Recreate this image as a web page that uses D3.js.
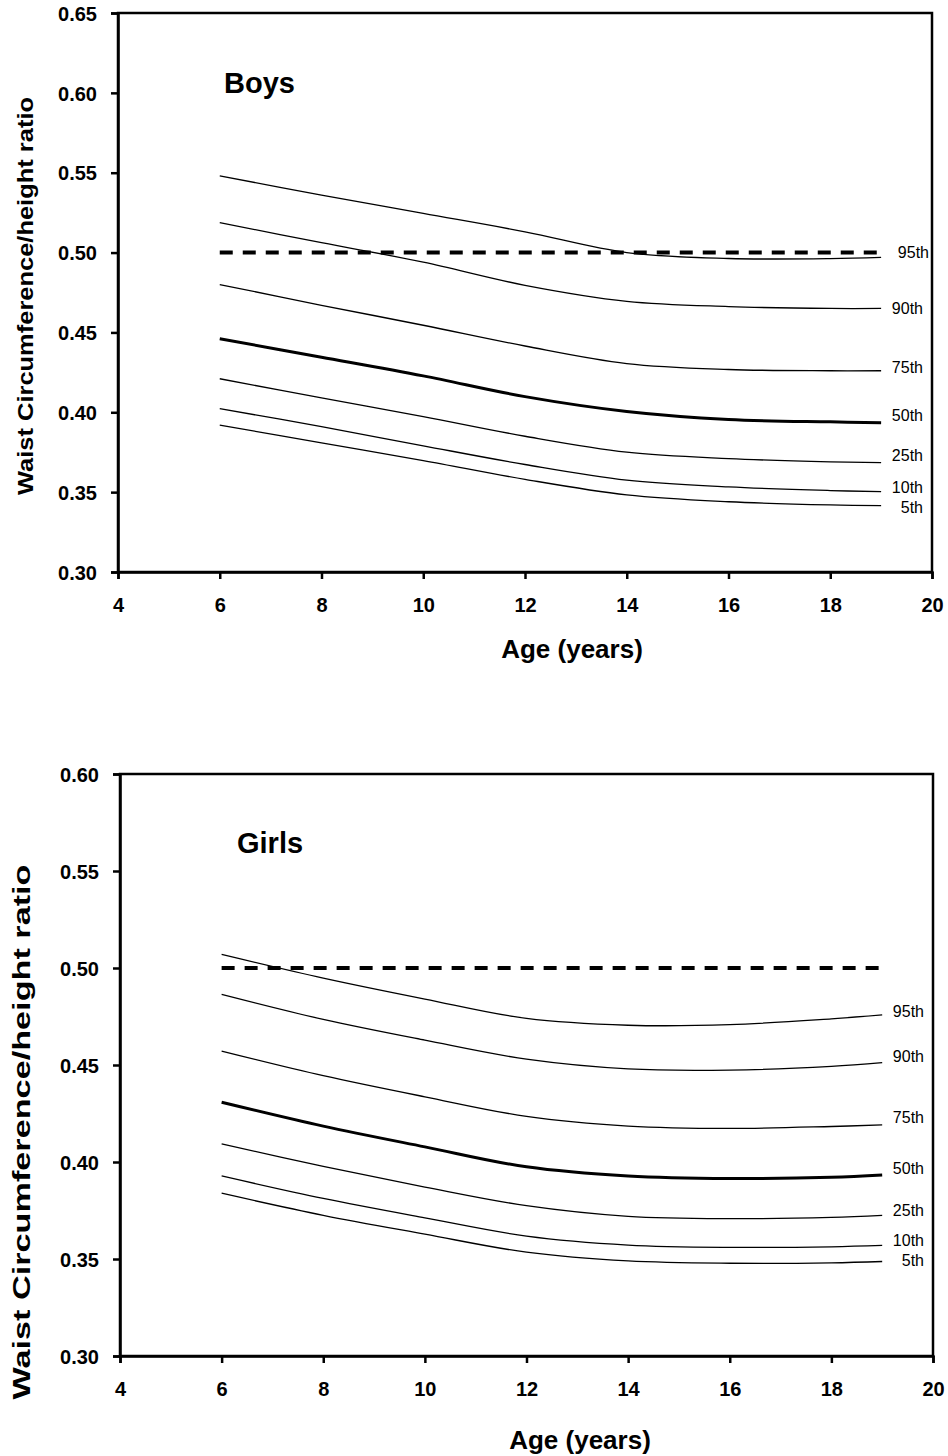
<!DOCTYPE html>
<html>
<head>
<meta charset="utf-8">
<script src="https://cdn.jsdelivr.net/npm/d3@7"></script>
<style>
  body { margin: 0; background: #fff; }
  text { font-family: "Liberation Sans", Arial, sans-serif; }
</style>
</head>
<body>
<script>
const ages = [6, 8, 10, 12, 14, 16, 18, 19];
const percentiles = ["95th", "90th", "75th", "50th", "25th", "10th", "5th"];

const boys95 = [0.548, 0.536, 0.5245, 0.513, 0.5, 0.4963, 0.4962, 0.497];
const boys90 = [0.5187, 0.5062, 0.494, 0.4795, 0.4695, 0.4662, 0.465, 0.465];
const boys75 = [0.480, 0.467, 0.4545, 0.4415, 0.4305, 0.4268, 0.426, 0.426];
const boys50 = [0.446, 0.4345, 0.4228, 0.4098, 0.4005, 0.3955, 0.394, 0.3935];
const boys25 = [0.421, 0.409, 0.3973, 0.385, 0.375, 0.371, 0.369, 0.3685];
const boys10 = [0.4023, 0.391, 0.379, 0.3673, 0.3575, 0.3533, 0.351, 0.3503];
const boys5  = [0.392, 0.3808, 0.3698, 0.358, 0.3483, 0.344, 0.342, 0.3416];

const girls95 = [0.507, 0.4948, 0.484, 0.474, 0.4705, 0.4708, 0.4738, 0.4758];
const girls90 = [0.4864, 0.4735, 0.4628, 0.453, 0.448, 0.4474, 0.4493, 0.4512];
const girls75 = [0.4572, 0.4445, 0.4336, 0.4235, 0.4185, 0.4173, 0.4183, 0.4191];
const girls50 = [0.4308, 0.4185, 0.4078, 0.3975, 0.3928, 0.3915, 0.3921, 0.3933];
const girls25 = [0.4093, 0.3977, 0.3871, 0.3775, 0.372, 0.3708, 0.3715, 0.3725];
const girls10 = [0.3928, 0.3812, 0.3712, 0.3618, 0.3572, 0.356, 0.3563, 0.357];
const girls5  = [0.3839, 0.3725, 0.3628, 0.3535, 0.349, 0.3478, 0.348, 0.3487];

const cutoff = 0.5;          // dashed reference line
const xTicks = [4, 6, 8, 10, 12, 14, 16, 18, 20];
const boysYTicks = [0.30, 0.35, 0.40, 0.45, 0.50, 0.55, 0.60, 0.65];
const girlsYTicks = [0.30, 0.35, 0.40, 0.45, 0.50, 0.55, 0.60];

const svg = d3.select("body").append("svg")
    .attr("width", 948)
    .attr("height", 1456);

function drawPanel(p) {
  const x = d3.scaleLinear().domain([4, 20]).range([p.left, p.right]);
  const y = d3.scaleLinear().domain([0.30, p.yMax]).range([p.bottom, p.top]);
  const g = svg.append("g");

  // frame (top + right)
  g.append("rect")
      .attr("x", p.left).attr("y", p.top)
      .attr("width", p.right - p.left).attr("height", p.bottom - p.top)
      .attr("fill", "none").attr("stroke", "#000").attr("stroke-width", 2.5);

  const ax = g.append("g")
      .attr("transform", `translate(0,${p.bottom})`)
      .call(d3.axisBottom(x).tickValues(xTicks).tickSizeOuter(0).tickSize(7).tickPadding(19)
        .tickFormat(d3.format("d")));
  const ay = g.append("g")
      .attr("transform", `translate(${p.left},0)`)
      .call(d3.axisLeft(y).tickValues(p.yTicks).tickSizeOuter(0).tickSize(7).tickPadding(14)
        .tickFormat(d3.format(".2f")));
  [ax, ay].forEach(a => {
    a.select(".domain").attr("stroke-width", 2.5);
    a.selectAll(".tick line").attr("stroke-width", 2.5);
    a.selectAll(".tick text")
        .attr("fill", "#000")
        .style("font-size", "20px")
        .style("font-weight", "bold");
  });
  ay.selectAll(".tick text").attr("dy", "0.36em");

  const line = d3.line()
      .x((d, i) => x(ages[i]))
      .y(d => y(d))
      .curve(d3.curveCatmullRom.alpha(0.5));

  // dashed 0.5 line
  g.append("line")
      .attr("x1", x(ages[0])).attr("x2", x(ages[ages.length - 1]))
      .attr("y1", y(cutoff)).attr("y2", y(cutoff))
      .attr("stroke", "#000").attr("stroke-width", 4)
      .attr("stroke-dasharray", "13,10");

  g.append("g")
    .selectAll("path")
    .data(p.series)
    .join("path")
      .attr("d", d => line(d))
      .attr("fill", "none")
      .attr("stroke", "#000")
      .attr("stroke-width", (d, i) => percentiles[i] === "50th" ? 3 : 1.3);

  g.append("g")
    .selectAll("text")
    .data(p.series)
    .join("text")
      .attr("x", (d, i) => p.labelX + (p.labelShift[i] || 0))
      .attr("y", (d, i) => y(d[d.length - 1]) + p.labelNudge[i])
      .attr("dy", "0.36em")
      .attr("text-anchor", "end")
      .style("font-size", "16px")
      .text((d, i) => percentiles[i]);

  g.append("text")
      .attr("x", p.titleX).attr("y", p.titleY)
      .style("font-size", "29px").style("font-weight", "bold")
      .text(p.title);

  g.append("text")
      .attr("x", p.xLabelX).attr("y", p.bottom + p.xLabelDy)
      .attr("text-anchor", "middle")
      .style("font-size", "26px").style("font-weight", "bold")
      .text("Age (years)");

  g.append("text")
      .attr("transform", `translate(${p.yLabelX},${p.yLabelY}) rotate(-90)`)
      .attr("text-anchor", "middle")
      .attr("textLength", p.yLabelLen)
      .attr("lengthAdjust", "spacingAndGlyphs")
      .style("font-size", p.yLabelSize + "px").style("font-weight", "bold")
      .text("Waist Circumference/height ratio");
}

drawPanel({
  title: "Boys", titleX: 224, titleY: 93,
  left: 118, right: 932, top: 13, bottom: 572, yMax: 0.65, yTicks: boysYTicks,
  series: [boys95, boys90, boys75, boys50, boys25, boys10, boys5],
  labelX: 923, labelShift: [6, 0, 0, 0, 0, 0, 0],
  labelNudge: [-5, 0, -4, -7, -7, -4, 2],
  xLabelX: 572, xLabelDy: 86,
  yLabelX: 33, yLabelY: 296, yLabelLen: 398, yLabelSize: 22
});

drawPanel({
  title: "Girls", titleX: 237, titleY: 853,
  left: 120, right: 933, top: 774, bottom: 1356, yMax: 0.60, yTicks: girlsYTicks,
  series: [girls95, girls90, girls75, girls50, girls25, girls10, girls5],
  labelX: 924, labelShift: [0, 0, 0, 0, 0, 0, 0],
  labelNudge: [-4, -6, -8, -7, -5, -5, -1],
  xLabelX: 580, xLabelDy: 93,
  yLabelX: 30, yLabelY: 1132, yLabelLen: 535, yLabelSize: 24
});
</script>
</body>
</html>
